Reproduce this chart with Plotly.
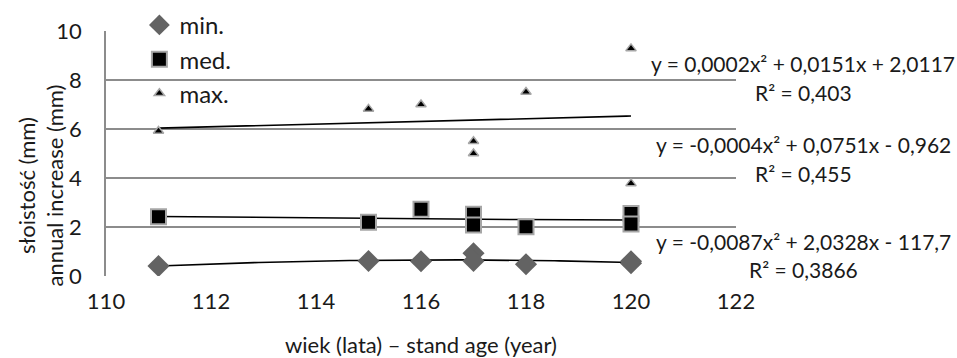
import numpy as np
import plotly.graph_objects as go

# stand age (years) and annual increase (mm) per statistic
age_min = [111, 115, 116, 117, 117, 118, 120, 120]
val_min = [0.41, 0.61, 0.60, 0.93, 0.61, 0.48, 0.52, 0.60]

age_med = [111, 115, 116, 117, 117, 118, 120, 120]
val_med = [2.42, 2.19, 2.72, 2.52, 2.08, 2.01, 2.55, 2.12]

age_max = [111, 115, 116, 117, 117, 118, 120, 120]
val_max = [5.92, 6.82, 7.00, 5.50, 5.00, 7.51, 9.29, 3.78]

eq_max = ["y = 0,0002x² + 0,0151x + 2,0117", "R² = 0,403"]
eq_med = ["y = -0,0004x² + 0,0751x - 0,962", "R² = 0,455"]
eq_min = ["y = -0,0087x² + 2,0328x - 117,7", "R² = 0,3866"]

x_ticks = [110, 112, 114, 116, 118, 120, 122]
y_ticks = [0, 2, 4, 6, 8, 10]

FONT = "Lato"
GRID = "#8c8c8c"
TXT = "#1a1a1a"

fig = go.Figure()

series = [
    ("min.", age_min, val_min, dict(symbol="diamond", size=17, color="#636363",
                                     line=dict(width=0))),
    ("med.", age_med, val_med, dict(symbol="square", size=15, color="#000000",
                                     line=dict(width=2, color="#a6a6a6"))),
    ("max.", age_max, val_max, dict(symbol="triangle-up", size=9, color="#000000",
                                     line=dict(width=1.5, color="#a6a6a6"))),
]

for name, xs, ys, marker in series:
    # second-order polynomial trend line fitted to each series
    coef = np.polyfit(xs, ys, 2)
    xx = np.linspace(min(xs), max(xs), 100)
    fig.add_trace(go.Scatter(x=xx, y=np.polyval(coef, xx), mode="lines",
                             line=dict(color="black", width=1.6),
                             showlegend=False, hoverinfo="skip"))
for name, xs, ys, marker in series:
    fig.add_trace(go.Scatter(x=xs, y=ys, mode="markers", name=name,
                             marker=marker, legendgroup=name))

# trend-line equations to the right of the plot area (paper coordinates)
EQ_X = 1.107
for (eq, r2), y_eq, y_r2 in [(eq_max, 0.869, 0.751), (eq_med, 0.535, 0.42), (eq_min, 0.139, 0.0245)]:
    for txt, yy in [(eq, y_eq), (r2, y_r2)]:
        fig.add_annotation(x=EQ_X, y=yy, xref="paper", yref="paper", text=txt,
                           showarrow=False, xanchor="center", yanchor="middle",
                           font=dict(family=FONT, size=21, color=TXT))

# two-line y-axis title
fig.add_annotation(x=-0.103, y=0.37, xref="paper", yref="paper",
                   text="słoistość (mm)<br>annual increase (mm)", textangle=-90,
                   showarrow=False, xanchor="center", yanchor="middle",
                   font=dict(family=FONT, size=22, color=TXT))

fig.update_layout(
    width=957, height=358,
    margin=dict(l=106, r=221, t=31, b=82, autoexpand=False),
    paper_bgcolor="white", plot_bgcolor="white",
    font=dict(family=FONT, size=22, color=TXT),
    legend=dict(x=0.053, y=1.115, xanchor="left", yanchor="top",
                bgcolor="rgba(0,0,0,0)", traceorder="grouped",
                tracegroupgap=0, font=dict(size=24), itemwidth=30),
    xaxis=dict(range=[110, 122], tickvals=x_ticks, showgrid=False,
               zeroline=False, showline=False, ticks="", ticklabelstandoff=10,
               title=dict(text="wiek (lata) – stand age (year)", standoff=24,
                          font=dict(size=22))),
    yaxis=dict(range=[0, 10], tickvals=y_ticks, showgrid=True, gridcolor=GRID,
               gridwidth=1.5, zeroline=False, showline=True, linecolor=GRID,
               linewidth=1.5, ticks="", ticklabelstandoff=18),
)

fig.write_html("out.html")
